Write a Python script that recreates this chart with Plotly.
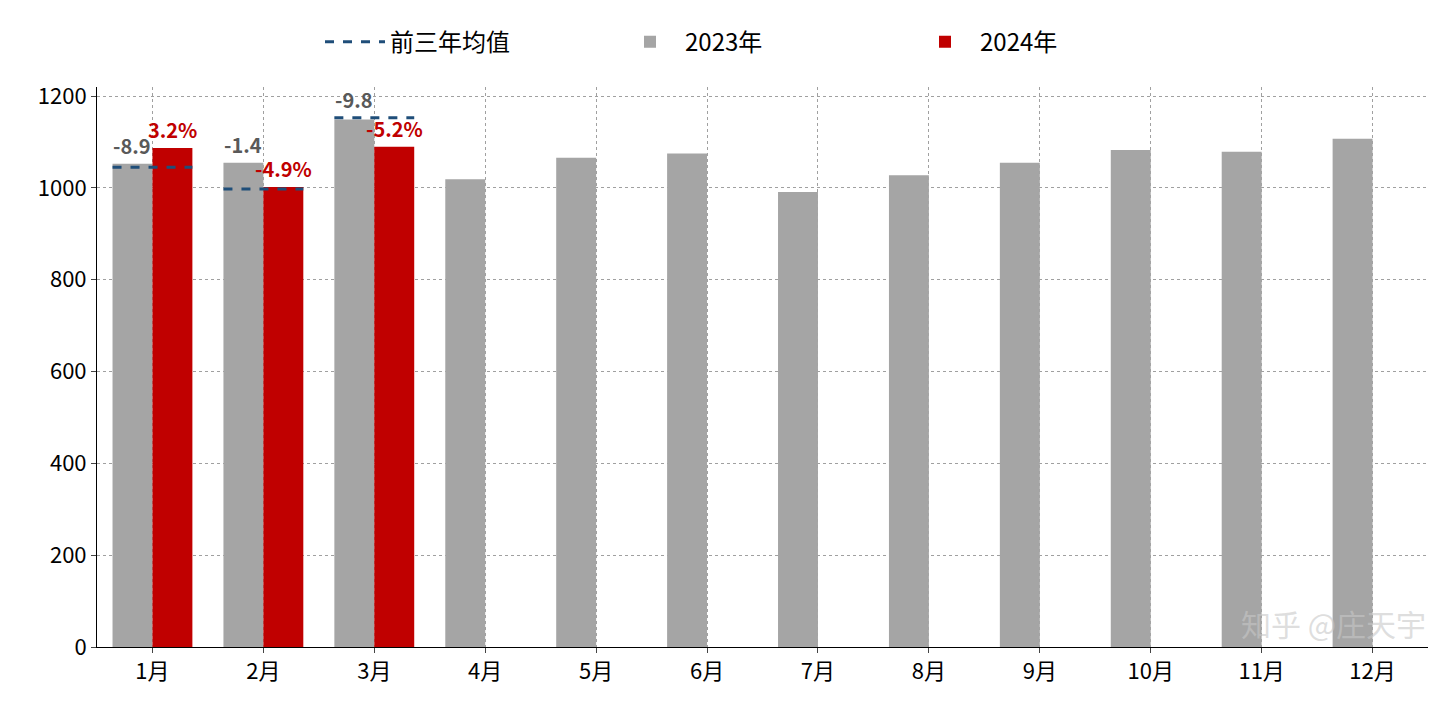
import plotly.graph_objects as go

months = [f"{i}月" for i in range(1, 13)]
v2023 = [1053, 1055, 1149, 1019, 1066, 1075, 991, 1028, 1055, 1083, 1079, 1107]
v2024 = [1087, 1002, 1090]
avg3 = [1045, 998, 1153]
lbl2023 = ["-8.9", "-1.4", "-9.8"]
lbl2024 = ["3.2%", "-4.9%", "-5.2%"]

FONT = "Noto Sans CJK SC"
x = list(range(len(months)))
half = 0.36
off = 0.18

lx, ly = [], []
for i, a in enumerate(avg3):
    lx += [i - half, i + half, None]
    ly += [a, a, None]

fig = go.Figure()
fig.add_trace(go.Scatter(x=lx, y=ly, mode="lines", name="前三年均值",
                         line=dict(color="#1F4E79", width=3, dash="dash")))
fig.add_trace(go.Bar(x=x, y=v2023, name="2023年", marker_color="#A5A5A5",
                     marker_line_width=0))
fig.add_trace(go.Bar(x=x[:3], y=v2024, name="2024年", marker_color="#C00000",
                     marker_line_width=0))

for i, t in enumerate(lbl2023):
    fig.add_annotation(x=i - off, y=max(v2023[i], avg3[i]), text=f"<b>{t}</b>",
                       showarrow=False, yanchor="bottom", yshift=2,
                       font=dict(color="#595959", size=20, family=FONT))
for i, t in enumerate(lbl2024):
    fig.add_annotation(x=i + off, y=v2024[i], text=f"<b>{t}</b>",
                       showarrow=False, yanchor="bottom", yshift=2,
                       font=dict(color="#C00000", size=20, family=FONT))

fig.add_annotation(text="知乎 @庄天宇", x=1.0, y=0.0, xref="paper", yref="paper",
                   xanchor="right", yanchor="bottom", showarrow=False,
                   font=dict(size=30, color="rgba(200,200,200,0.6)", family=FONT))

fig.update_layout(
    width=1440, height=705, template="plotly_white",
    barmode="group", bargap=0.28, bargroupgap=0,
    font=dict(family=FONT, size=22, color="black"),
    legend=dict(orientation="h", x=0.5, xanchor="center", y=1.04, yanchor="bottom",
                font=dict(size=24), traceorder="normal", itemwidth=60,
                entrywidth=220),
    margin=dict(l=89, r=20, t=67, b=66),
)
fig.update_xaxes(tickmode="array", tickvals=x, ticktext=months, range=[-0.5, 11.5],
                 showline=True, linecolor="black", ticks="outside",
                 showgrid=True, gridcolor="#A0A0A0", griddash="dot", gridwidth=1,
                 zeroline=False)
fig.update_yaxes(range=[0, 1220], dtick=200, showline=True, linecolor="black",
                 ticks="outside", showgrid=True, gridcolor="#A0A0A0", griddash="dot",
                 gridwidth=1, zeroline=False)

fig.write_html("out.html")
